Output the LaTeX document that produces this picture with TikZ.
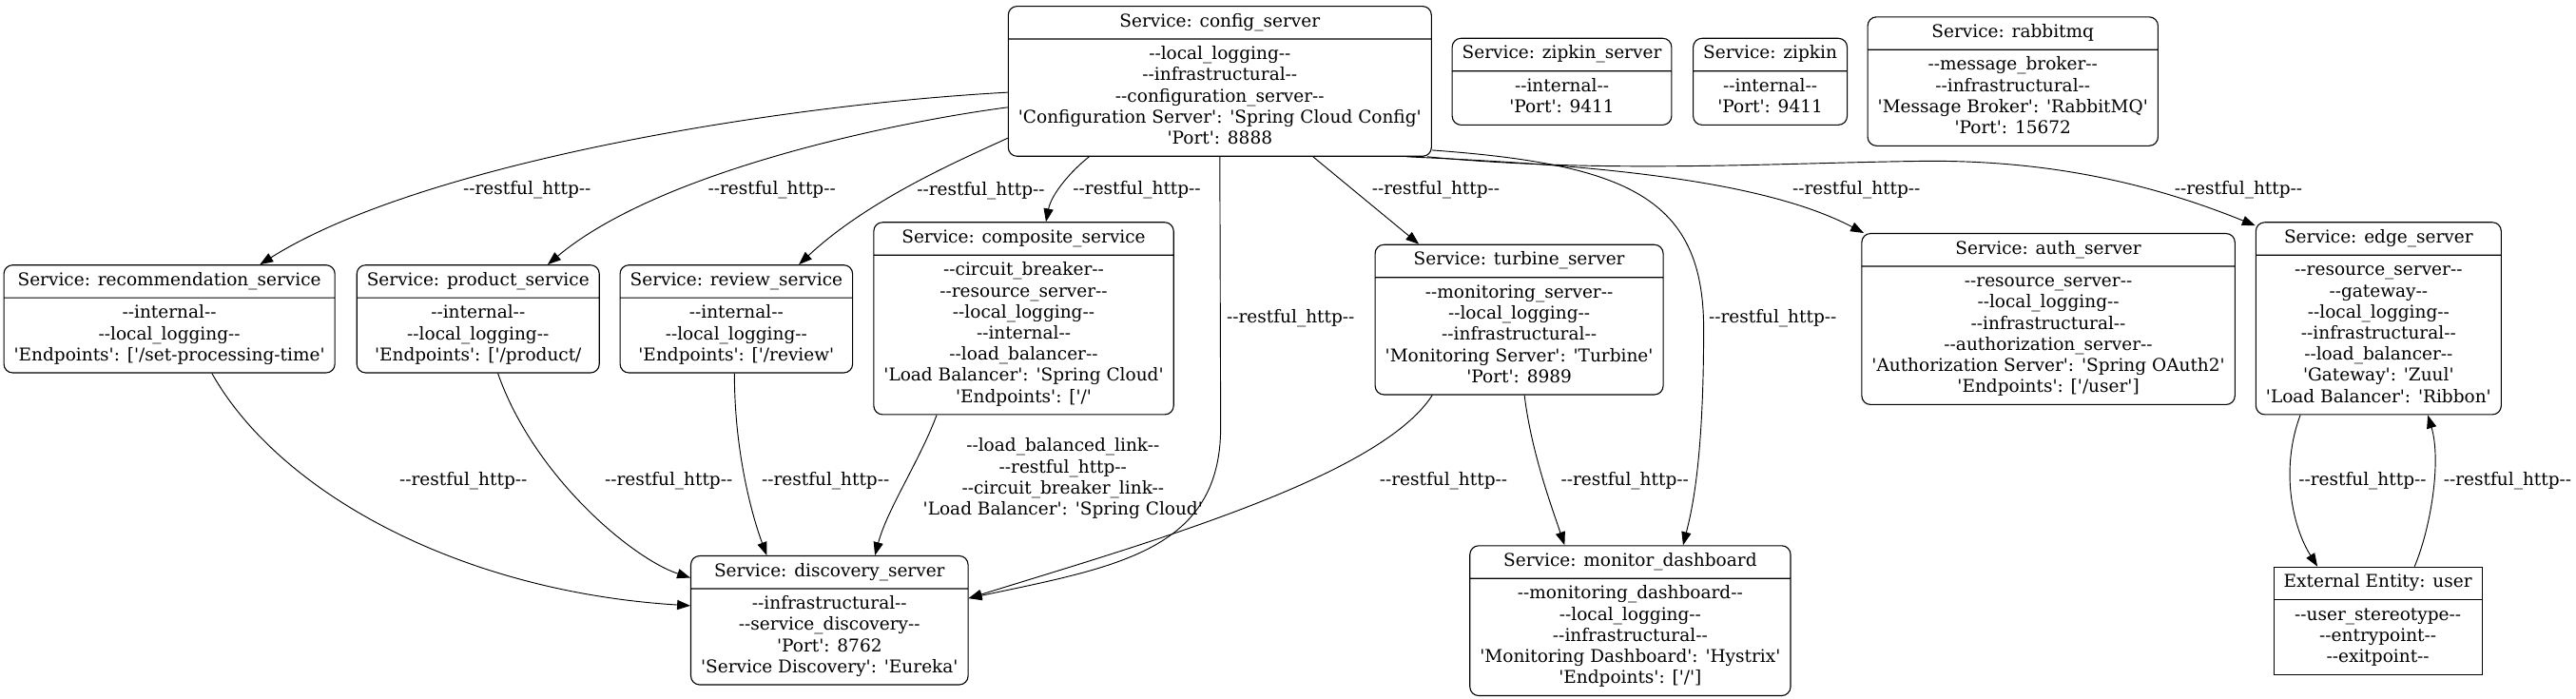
\documentclass[tikz,border=0pt]{standalone}
\usepackage{fontspec}
\newfontfamily\dfdfont{DejaVu Serif}
\usetikzlibrary{shapes.multipart,arrows.meta}
\newcommand{\bx}[1]{\strut#1\strut}
\begin{document}
\begin{tikzpicture}[x=0.9335pt,y=-0.9335pt,
    svc/.style={rectangle split,rectangle split parts=2,draw,rounded corners=5pt,anchor=north,align=center,
        font=\dfdfont\fontsize{10}{12}\selectfont,inner xsep=5.7pt,inner ysep=3pt,line width=0.6pt},
    ext/.style={svc,sharp corners},
    lbl/.style={font=\dfdfont\fontsize{10}{12}\selectfont,align=center,inner sep=0pt},
    flow/.style={-{Triangle[length=7.5pt,width=5.5pt]},line width=0.5pt}]
        \useasboundingbox (0,0) rectangle (1568,425.4);
        %Services
        \node[svc] (config) at (742.5,3.5) {\bx{Service: config\_server}\nodepart{two}\bx{--local\_logging--\\--infrastructural--\\--configuration\_server--\\'Configuration Server': 'Spring Cloud Config'\\'Port': 8888}};
        \node[svc] (zipkinsrv) at (950.7,23) {\bx{Service: zipkin\_server}\nodepart{two}\bx{--internal--\\'Port': 9411}};
        \node[svc] (zipkin) at (1077.5,23) {\bx{Service: zipkin}\nodepart{two}\bx{--internal--\\'Port': 9411}};
        \node[svc] (rabbit) at (1225.2,10) {\bx{Service: rabbitmq}\nodepart{two}\bx{--message\_broker--\\--infrastructural--\\'Message Broker': 'RabbitMQ'\\'Port': 15672}};
        \node[svc] (recom) at (103.1,161) {\bx{Service: recommendation\_service}\nodepart{two}\bx{--internal--\\--local\_logging--\\'Endpoints': ['/set-processing-time'}};
        \node[svc] (product) at (291,161) {\bx{Service: product\_service}\nodepart{two}\bx{--internal--\\--local\_logging--\\'Endpoints': ['/product/}};
        \node[svc] (review) at (448.2,161) {\bx{Service: review\_service}\nodepart{two}\bx{--internal--\\--local\_logging--\\'Endpoints': ['/review'}};
        \node[svc] (composite) at (623.1,135) {\bx{Service: composite\_service}\nodepart{two}\bx{--circuit\_breaker--\\--resource\_server--\\--local\_logging--\\--internal--\\--load\_balancer--\\'Load Balancer': 'Spring Cloud'\\'Endpoints': ['/'}};
        \node[svc] (turbine) at (924.7,148.6) {\bx{Service: turbine\_server}\nodepart{two}\bx{--monitoring\_server--\\--local\_logging--\\--infrastructural--\\'Monitoring Server': 'Turbine'\\'Port': 8989}};
        \node[svc] (auth) at (1246.8,141.8) {\bx{Service: auth\_server}\nodepart{two}\bx{--resource\_server--\\--local\_logging--\\--infrastructural--\\--authorization\_server--\\'Authorization Server': 'Spring OAuth2'\\'Endpoints': ['/user']}};
        \node[svc] (edgesrv) at (1447.8,135) {\bx{Service: edge\_server}\nodepart{two}\bx{--resource\_server--\\--gateway--\\--local\_logging--\\--infrastructural--\\--load\_balancer--\\'Gateway': 'Zuul'\\'Load Balancer': 'Ribbon'}};
        \node[svc] (discovery) at (504.9,338) {\bx{Service: discovery\_server}\nodepart{two}\bx{--infrastructural--\\--service\_discovery--\\'Port': 8762\\'Service Discovery': 'Eureka'}};
        \node[svc] (monitor) at (992.3,331.8) {\bx{Service: monitor\_dashboard}\nodepart{two}\bx{--monitoring\_dashboard--\\--local\_logging--\\--infrastructural--\\'Monitoring Dashboard': 'Hystrix'\\'Endpoints': ['/']}};
        %External entity
        \node[ext] (user) at (1447.4,344.8) {\bx{External Entity: user}\nodepart{two}\bx{--user\_stereotype--\\--entrypoint--\\--exitpoint--}};
        %Flows from config_server
        \draw[flow] (config.183) .. controls (470,64) and (255,100) .. (recom.31);
        \draw[flow] (config.187) .. controls (540,75) and (400,105) .. (product.38);
        \draw[flow] (config.195) .. controls (590,95) and (530,120) .. (review.41);
        \draw[flow] (config.210) .. controls (652,104) and (640,118) .. (composite.77);
        \draw[flow] (config.south) -- (743,260) .. controls (743,335) and (680,345) .. (discovery.9);
        \draw[flow] (config.321) -- (turbine.143);
        \draw[flow] (config.342) .. controls (990,100) and (1037,120) .. (1037,200) .. controls (1037,280) and (1030,310) .. (monitor.55);
        \draw[flow] (config.338) .. controls (960,100) and (1070,108) .. (auth.155);
        \draw[flow] (config.340) .. controls (980,106) and (1080,99) .. (1175,98) .. controls (1250,98) and (1310,112) .. (edgesrv.143);
        %Flows to discovery_server
        \draw[flow] (recom.308) .. controls (170,300) and (280,360) .. (discovery.174);
        \draw[flow] (product.290) .. controls (325,290) and (385,340) .. (discovery.163);
        \draw[flow] (review.268) .. controls (447,280) and (460,320) .. (discovery.134);
        \draw[flow] (composite.228) .. controls (560,280) and (540,310) .. (discovery.55);
        \draw[flow] (turbine.221) .. controls (840,290) and (700,330) .. (discovery.9);
        %Other flows
        \draw[flow] (turbine.274) .. controls (932,275) and (945,310) .. (monitor.131);
        \draw[flow] (edgesrv.231) .. controls (1388,285) and (1395,320) .. (user.138);
        \draw[flow] (user.56) .. controls (1480,320) and (1486,280) .. (edgesrv.297);
        %Labels
        \node[lbl] (lrecom) at (320.8,115.8) {--restful\_http--};
        \node[lbl] (lproduct) at (469.8,115.8) {--restful\_http--};
        \node[lbl] (lreview) at (597,116) {--restful\_http--};
        \node[lbl] (lcomposite) at (692,115.5) {--restful\_http--};
        \node[lbl] (ldiscovery) at (785.6,193.5) {--restful\_http--};
        \node[lbl] (lturbine) at (874,115.4) {--restful\_http--};
        \node[lbl] (lmonitor) at (1079,193.5) {--restful\_http--};
        \node[lbl] (lauth) at (1130,115.4) {--restful\_http--};
        \node[lbl] (ledge) at (1362.5,115.4) {--restful\_http--};
        \node[lbl] (lrecdis) at (282,292.9) {--restful\_http--};
        \node[lbl] (lprodis) at (407,292.9) {--restful\_http--};
        \node[lbl] (lrevdis) at (502.5,292.9) {--restful\_http--};
        \node[lbl] (lcomdis) at (647,291.3) {--load\_balanced\_link--\\--restful\_http--\\--circuit\_breaker\_link--\\'Load Balancer': 'Spring Cloud'};
        \node[lbl] (lturdis) at (878.6,292.9) {--restful\_http--};
        \node[lbl] (lturmon) at (989,292.9) {--restful\_http--};
        \node[lbl] (ledgeuser) at (1438,292.9) {--restful\_http--};
        \node[lbl] (luseredge) at (1526.3,292.9) {--restful\_http--};
\end{tikzpicture}
\end{document}
